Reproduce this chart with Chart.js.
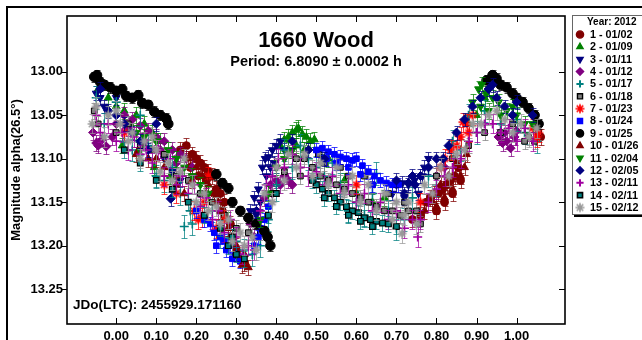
<!DOCTYPE html>
<html>
<head>
<meta charset="utf-8">
<script src="https://cdn.jsdelivr.net/npm/chart.js@4.4.1/dist/chart.umd.min.js"></script>
<style>
  html, body { margin: 0; padding: 0; background: #fff; }
</style>
</head>
<body>
<canvas id="lightcurve" width="642" height="340"></canvas>
<script>
const FONT = 'Arial, "Liberation Sans", sans-serif';

// axis ticks
const X_TICKS = [0.00, 0.10, 0.20, 0.30, 0.40, 0.50, 0.60, 0.70, 0.80, 0.90, 1.00];
const Y_TICKS = [13.00, 13.05, 13.10, 13.15, 13.20, 13.25];

const SERIES_LABELS = ['1 - 01/02', '2 - 01/09', '3 - 01/11', '4 - 01/12', '5 - 01/17',
  '6 - 01/18', '7 - 01/23', '8 - 01/24', '9 - 01/25', '10 - 01/26', '11 - 02/04',
  '12 - 02/05', '13 - 02/11', '14 - 02/11', '15 - 02/12'];

// mag error per session
const ERRORS = [0.009, 0.009, 0.008, 0.009, 0.013, 0.009, 0.011, 0.008, 0.006, 0.009, 0.009, 0.008, 0.011, 0.009, 0.011];

// [phase, magnitude]
const s1 = [[0.16,13.09],[0.175,13.085],[0.19,13.095],[0.2,13.1],[0.21,13.105],[0.22,13.11],[0.23,13.115],[0.24,13.12],
  [0.25,13.135],[0.26,13.14],[0.27,13.15],[0.3,13.205],[0.31,13.215],[0.32,13.22],[0.775,13.15],[0.785,13.145],
  [0.795,13.14],[0.805,13.14],[0.815,13.135],[0.825,13.13],[0.835,13.125],[0.845,13.12],[0.855,13.11],[1.06,13.075],
  [0.185,13.11],[0.205,13.12],[0.225,13.125],[0.245,13.14],[0.265,13.16],[0.285,13.175],[0.76,13.165],[0.8,13.16],
  [0.82,13.15],[0.84,13.14],[0.86,13.125],[0.74,13.17]];
const s2 = [[0.41,13.085],[0.42,13.078],[0.43,13.075],[0.44,13.07],[0.45,13.067],[0.455,13.065],[0.465,13.072],[0.475,13.075],
  [0.485,13.08],[0.495,13.078],[-0.02,13.03],[0.0,13.04],[0.02,13.045],[0.05,13.05],[0.07,13.06],[0.09,13.07],
  [0.26,13.16],[0.28,13.17],[0.6,13.14],[0.64,13.15],[0.88,13.06],[0.9,13.05],[0.43,13.09],[0.45,13.085],
  [0.47,13.09],[0.51,13.095],[0.53,13.1],[-0.045,13.02],[0.035,13.06],[0.11,13.08],[0.92,13.03],
  [0.015,13.085],[0.055,13.09],[0.095,13.11],[0.135,13.12],[0.57,13.125],[0.67,13.145]];
const s3 = [[0.335,13.16],[0.345,13.145],[0.355,13.135],[0.365,13.11],[0.372,13.1],[0.38,13.098],[0.39,13.09],[0.4,13.085],
  [0.41,13.08],[0.7,13.13],[0.715,13.128],[0.73,13.13],[0.745,13.125],[0.755,13.14],[0.765,13.12],[0.77,13.11],
  [0.12,13.1],[0.14,13.115],[0.16,13.125],[-0.05,13.025],[-0.04,13.03],[-0.03,13.04],[0.35,13.165],[0.36,13.15],
  [0.375,13.12],[0.385,13.11],[0.395,13.105],[0.42,13.09],[0.69,13.14],[0.72,13.145],[0.78,13.1],[0.0,13.03]];
const s4 = [[-0.058,13.07],[-0.05,13.082],[-0.045,13.085],[-0.035,13.078],[-0.025,13.086],[-0.01,13.075],[0.0,13.06],[0.02,13.05],
  [0.04,13.055],[0.06,13.062],[0.08,13.068],[0.1,13.075],[0.12,13.08],[0.14,13.09],[0.16,13.095],[0.175,13.1],
  [0.37,13.145],[0.385,13.13],[0.4,13.125],[0.41,13.13],[0.42,13.12],[0.335,13.175],[0.345,13.19],
  [0.955,13.075],[0.965,13.082],[0.975,13.08],[0.985,13.088],[0.995,13.075],[1.0,13.068],[0.03,13.065],[0.07,13.08],
  [0.11,13.09],[0.15,13.105],[0.19,13.11],[0.43,13.125],[0.44,13.13],[0.39,13.14],[0.8,13.12],[0.82,13.11],[0.97,13.07]];
const s5 = [[0.19,13.175],[0.185,13.16],[0.1,13.12],[0.12,13.125],[0.16,13.14],[0.02,13.08],[0.04,13.09],[-0.03,13.06],
  [0.24,13.16],[0.28,13.19],[0.32,13.205],[0.36,13.2],[0.4,13.13],[0.44,13.11],[0.48,13.1],[0.52,13.12],[0.56,13.13],
  [0.6,13.15],[0.65,13.117],[0.62,13.165],[0.68,13.16],[0.72,13.17],[0.76,13.16],[0.8,13.13],[0.86,13.09],[0.9,13.07],
  [0.96,13.06],[1.02,13.07],[-0.05,13.03],[0.0,13.035],[0.06,13.05],[0.08,13.085],[0.14,13.11],[0.21,13.14],[0.26,13.19],
  [0.3,13.195],[0.34,13.21],[0.38,13.17],[0.42,13.09],[0.46,13.085],[0.5,13.11],[0.54,13.105],[0.58,13.16],[0.64,13.14],
  [0.7,13.18],[0.74,13.145],[0.78,13.12],[0.84,13.08],[0.88,13.05],[0.92,13.045],[1.0,13.055],[1.05,13.08],[0.17,13.178]];
const s6 = [[0.45,13.1],[0.47,13.1],[0.49,13.11],[0.51,13.12],[0.53,13.125],[0.55,13.13],[0.57,13.135],[0.59,13.14],
  [0.61,13.145],[0.63,13.15],[0.65,13.155],[0.67,13.16],[0.69,13.16],[0.71,13.165],[0.73,13.16],[0.75,13.16],
  [0.505,13.095],[0.56,13.11],[0.62,13.12],[1.03,13.075],[1.045,13.08],[1.055,13.07],[1.02,13.08],[0.99,13.06],
  [-0.055,13.045],[-0.045,13.06],[0.0,13.07],[0.03,13.06],[0.06,13.085],[0.09,13.09],[0.12,13.095],[0.15,13.12],
  [0.18,13.125],[0.21,13.14],[0.24,13.15],[0.27,13.165],[0.3,13.18],[0.33,13.185],[0.36,13.185],[0.39,13.14],
  [0.42,13.115],[0.46,13.12],[0.52,13.105],[0.58,13.12],[0.64,13.13],[0.68,13.14],[0.72,13.15],[0.76,13.175],
  [0.8,13.12],[0.84,13.1],[0.88,13.085],[0.92,13.07],[0.96,13.07]];
const s7 = [[0.205,13.17],[0.215,13.168],[0.195,13.16],[0.12,13.13],[0.15,13.14],[0.22,13.15],[0.25,13.18],[0.6,13.13],
  [0.76,13.15],[0.81,13.11],[0.835,13.09],[0.85,13.085],[0.866,13.058],[0.875,13.06],[0.88,13.07],[1.05,13.075],
  [1.055,13.07],[0.02,13.07],[0.23,13.12],[0.27,13.17],[0.82,13.1],[0.86,13.075],[0.89,13.05],[1.04,13.065]];
const s8 = [[0.2,13.16],[0.22,13.17],[0.235,13.175],[0.245,13.185],[0.26,13.19],[0.27,13.195],[0.285,13.2],[0.3,13.21],
  [0.31,13.218],[0.355,13.19],[0.37,13.17],[0.38,13.155],[0.5,13.09],[0.515,13.088],[0.53,13.092],[0.545,13.095],
  [0.56,13.098],[0.575,13.1],[0.59,13.102],[0.6,13.1],[0.615,13.108],[0.63,13.115],[0.645,13.12],[0.66,13.125],
  [0.675,13.128],[0.69,13.13],[0.705,13.13],[0.525,13.1],[0.55,13.105],[0.58,13.11],[0.61,13.118],[0.64,13.13],
  [0.25,13.2],[0.275,13.205],[0.29,13.215],[0.345,13.2],[0.36,13.18]];
const s9 = [[-0.055,13.006],[-0.048,13.004],[-0.04,13.012],[-0.03,13.015],[-0.015,13.018],[0.0,13.022],[0.015,13.02],
  [0.025,13.028],[0.04,13.03],[0.055,13.027],[0.065,13.036],[0.08,13.038],[0.095,13.046],[0.11,13.05],[0.125,13.054],
  [0.13,13.06],[0.25,13.118],[0.265,13.128],[0.28,13.134],[0.29,13.15],[0.31,13.16],[0.33,13.168],[0.35,13.175],
  [0.37,13.183],[0.378,13.19],[0.385,13.2],[0.925,13.01],[0.94,13.004],[0.95,13.008],[0.96,13.015],[0.975,13.018],
  [0.99,13.025],[1.0,13.03],[1.015,13.035],[1.03,13.042],[1.045,13.05],[1.055,13.06]];
const s10 = [[0.18,13.1],[0.2,13.11],[0.215,13.12],[0.23,13.13],[0.245,13.14],[0.26,13.16],[0.28,13.18],[0.3,13.2],
  [0.315,13.222],[0.33,13.225],[0.79,13.15],[0.8,13.155],[0.82,13.145],[0.84,13.135],[0.86,13.12],[0.87,13.11],
  [0.08,13.1],[0.1,13.1],[0.12,13.11],[0.19,13.125],[0.225,13.14],[0.255,13.15],[0.29,13.19],[0.32,13.21],
  [0.77,13.16],[0.81,13.13],[0.83,13.12],[0.85,13.105],[0.875,13.095],[0.05,13.095],[0.15,13.13],[0.17,13.14]];
const s11 = [[0.905,13.02],[0.913,13.015],[0.925,13.025],[0.94,13.03],[0.955,13.035],[0.975,13.045],[1.0,13.05],[1.02,13.06],
  [1.04,13.06],[0.1,13.08],[0.13,13.09],[0.15,13.1],[0.17,13.11],[0.19,13.12],[0.21,13.13],[0.23,13.14],[0.36,13.17],
  [0.38,13.14],[0.42,13.1],[0.44,13.09],[0.89,13.035],[0.91,13.04],[0.93,13.045],[0.96,13.05],[0.99,13.04],
  [0.05,13.07],[0.07,13.075],[0.4,13.11]];
const s12 = [[0.136,13.146],[0.0,13.05],[0.02,13.06],[0.04,13.07],[-0.02,13.045],[0.06,13.08],[0.72,13.14],[0.73,13.128],
  [0.746,13.13],[0.76,13.12],[0.78,13.11],[0.8,13.1],[0.817,13.1],[0.83,13.085],[0.85,13.07],[0.87,13.055],[0.89,13.04],
  [0.91,13.03],[0.93,13.02],[0.95,13.03],[0.97,13.04],[0.99,13.05],[-0.04,13.02],[0.08,13.09],[0.1,13.06],[0.3,13.21],
  [0.35,13.16],[0.44,13.08],[0.48,13.09],[0.52,13.1],[0.7,13.125],[0.74,13.12],[0.94,13.015],[1.0,13.035],[1.04,13.05]];
const s13 = [[-0.04,13.07],[0.0,13.08],[0.03,13.09],[0.06,13.095],[0.09,13.105],[0.12,13.12],[0.15,13.13],[0.18,13.14],
  [0.21,13.155],[0.24,13.17],[0.27,13.185],[0.3,13.19],[0.33,13.2],[0.36,13.16],[0.39,13.12],[0.42,13.11],[0.46,13.11],
  [0.5,13.115],[0.54,13.12],[0.58,13.13],[0.62,13.14],[0.66,13.15],[0.7,13.16],[0.74,13.17],[0.753,13.19],[0.78,13.15],
  [0.82,13.12],[0.86,13.1],[0.9,13.07],[0.94,13.06],[0.98,13.065],[1.02,13.065],[-0.05,13.05],[-0.02,13.06],
  [0.015,13.07],[0.045,13.075],[0.075,13.09],[0.105,13.09],[0.135,13.1],[0.165,13.12],[0.195,13.13],[0.225,13.145],
  [0.255,13.16],[0.285,13.17],[0.315,13.21],[0.345,13.205],[0.375,13.13],[0.405,13.1],[0.44,13.095],[0.48,13.12],
  [0.52,13.13],[0.56,13.14],[0.6,13.15],[0.64,13.16],[0.68,13.17],[0.72,13.18],[0.76,13.17],[0.8,13.135],[0.84,13.11],
  [0.88,13.08],[0.92,13.06],[0.96,13.07],[1.0,13.08],[1.04,13.08]];
const s14 = [[0.5,13.13],[0.515,13.135],[0.53,13.14],[0.545,13.145],[0.56,13.15],[0.575,13.155],[0.59,13.16],[0.605,13.162],
  [0.62,13.168],[0.635,13.17],[0.65,13.172],[0.665,13.174],[0.68,13.175],[0.28,13.2],[0.3,13.21],[0.29,13.19],[0.4,13.14],
  [0.49,13.125],[0.52,13.145],[0.55,13.155],[0.58,13.165],[0.61,13.172],[0.64,13.178],[0.7,13.178],[0.26,13.18],
  [0.32,13.215],[0.38,13.165],[0.02,13.09],[0.06,13.105],[0.1,13.125],[0.14,13.135],[0.18,13.15],[0.22,13.165]];
const s15 = [[-0.05,13.04],[-0.02,13.05],[0.01,13.06],[0.04,13.07],[0.07,13.08],[0.1,13.09],[0.13,13.105],[0.16,13.115],
  [0.19,13.13],[0.22,13.14],[0.25,13.155],[0.28,13.17],[0.31,13.185],[0.34,13.19],[0.37,13.14],[0.4,13.11],[0.43,13.095],
  [0.47,13.095],[0.51,13.105],[0.55,13.11],[0.59,13.12],[0.63,13.13],[0.67,13.14],[0.714,13.186],[0.7,13.15],[0.73,13.15],
  [0.77,13.13],[0.81,13.11],[0.85,13.095],[0.89,13.06],[0.93,13.05],[0.97,13.055],[1.01,13.06],[1.05,13.065],
  [-0.06,13.06],[-0.03,13.075],[0.0,13.045],[0.03,13.08],[0.06,13.1],[0.09,13.075],[0.11,13.115],[0.14,13.125],
  [0.17,13.1],[0.2,13.15],[0.23,13.16],[0.26,13.175],[0.29,13.195],[0.32,13.2],[0.35,13.205],[0.39,13.15],[0.42,13.125],
  [0.45,13.11],[0.49,13.12],[0.53,13.13],[0.57,13.14],[0.61,13.15],[0.65,13.16],[0.69,13.17],[0.72,13.165],
  [0.75,13.175],[0.79,13.14],[0.83,13.12],[0.87,13.09],[0.91,13.06],[0.95,13.045],[0.99,13.07],[1.03,13.075]];
const SERIES = [s1, s2, s3, s4, s5, s6, s7, s8, s9, s10, s11, s12, s13, s14, s15];

// marker styling, one per session
const FILLS  = ['#800000','#008000','#000080','#800080','#008080','#808080','#ff0000','#0000ff','#000000','#800000','#008000','#000080','#a000a0','#008080','#999999'];
const EDGES  = ['#800000','#008000','#000080','#800080','#008080','#000000','#ff0000','#0000ff','#000000','#800000','#008000','#000080','#a000a0','#000000','#999999'];
const SHAPES = ['circle','triangle','triangle','rectRot','cross','rect','star','rect','circle','triangle','triangle','rectRot','cross','rect','star'];
const TURNS  = [0, 0, 180, 0, 0, 0, 0, 0, 0, 0, 180, 0, 0, 0, 0];
const SIZES  = [4, 4.5, 4.5, 4.5, 4.5, 4, 4.5, 4, 4.8, 4.5, 4.5, 4.5, 4.5, 4, 4.5];
const LINE_W = [1, 1, 1, 1, 1.6, 1, 1.6, 1, 1, 1, 1, 1, 1.6, 1.2, 1.6];

// asterisk marker as a small canvas (drawn as pointStyle image)
function starMarker(color, r) {
  const c = document.createElement('canvas');
  const n = Math.ceil(r * 2 + 3);
  c.width = n; c.height = n;
  const g = c.getContext('2d');
  const m = n / 2, d = r * 0.72;
  g.strokeStyle = color;
  g.lineWidth = 1.7;
  g.beginPath();
  g.moveTo(m - r, m); g.lineTo(m + r, m);
  g.moveTo(m, m - r); g.lineTo(m, m + r);
  g.moveTo(m - d, m - d); g.lineTo(m + d, m + d);
  g.moveTo(m - d, m + d); g.lineTo(m + d, m - d);
  g.stroke();
  return c;
}

const markerFor = i => SHAPES[i] === 'star' ? starMarker(FILLS[i], SIZES[i]) : SHAPES[i];

const datasets = SERIES.map((pts, i) => ({
  label: SERIES_LABELS[i],
  data: pts.map(p => ({ x: p[0], y: p[1] })),
  err: ERRORS[i],
  pointStyle: markerFor(i),
  pointRotation: TURNS[i],
  pointRadius: SIZES[i],
  pointHoverRadius: SIZES[i],
  backgroundColor: FILLS[i],
  borderColor: EDGES[i],
  borderWidth: LINE_W[i],
  showLine: false,
  order: SERIES.length - i
}));

function hexA(hex, a) {
  const n = parseInt(hex.slice(1), 16);
  return `rgba(${n >> 16},${(n >> 8) & 255},${n & 255},${a})`;
}

// vertical error bars, drawn just under each session's markers
const errorBars = {
  id: 'errorBars',
  beforeDatasetDraw(chart, args) {
    const ds = chart.data.datasets[args.index];
    const xs = chart.scales.x, ys = chart.scales.y;
    const ctx = chart.ctx;
    ctx.save();
    ctx.strokeStyle = hexA(FILLS[args.index], 0.75);
    ctx.lineWidth = 1;
    ctx.beginPath();
    ds.data.forEach(p => {
      const x = Math.round(xs.getPixelForValue(p.x)) + 0.5;
      const y1 = Math.round(ys.getPixelForValue(p.y - ds.err)) + 0.5;
      const y2 = Math.round(ys.getPixelForValue(p.y + ds.err)) + 0.5;
      ctx.moveTo(x, y1); ctx.lineTo(x, y2);
      ctx.moveTo(x - 3, y1); ctx.lineTo(x + 3, y1);
      ctx.moveTo(x - 3, y2); ctx.lineTo(x + 3, y2);
    });
    ctx.stroke();
    ctx.restore();
  }
};

// frame, tick marks, texts and the session legend
const decorations = {
  id: 'decorations',
  afterDraw(chart) {
    const ctx = chart.ctx;
    const a = chart.chartArea;
    const xs = chart.scales.x, ys = chart.scales.y;
    ctx.save();

    // outer frame
    ctx.fillStyle = '#000';
    ctx.fillRect(6, 6, 636, 2);
    ctx.fillRect(6, 6, 2, 334);

    // plot frame
    ctx.strokeStyle = '#000';
    ctx.lineWidth = 1.6;
    ctx.strokeRect(a.left, a.top, a.right - a.left, a.bottom - a.top);

    ctx.lineWidth = 1;
    ctx.beginPath();
    X_TICKS.forEach(v => {
      const x = Math.round(xs.getPixelForValue(v)) + 0.5;
      ctx.moveTo(x, a.bottom); ctx.lineTo(x, a.bottom - 6);
      ctx.moveTo(x, a.top); ctx.lineTo(x, a.top + 6);
    });
    Y_TICKS.forEach(v => {
      const y = Math.round(ys.getPixelForValue(v)) + 0.5;
      ctx.moveTo(a.left, y); ctx.lineTo(a.left - 6, y);
      ctx.moveTo(a.right, y); ctx.lineTo(a.right - 6, y);
    });
    ctx.stroke();

    // texts inside the plot
    const cx = (a.left + a.right) / 2;
    ctx.fillStyle = '#000';
    ctx.textBaseline = 'alphabetic';
    ctx.textAlign = 'center';
    ctx.font = `bold 22px ${FONT}`;
    ctx.fillText('1660 Wood', cx, 47);
    ctx.font = `bold 14.5px ${FONT}`;
    ctx.fillText('Period: 6.8090 \u00b1 0.0002 h', cx, 66);
    ctx.textAlign = 'left';
    ctx.font = `bold 13.5px ${FONT}`;
    ctx.fillText('JDo(LTC): 2455929.171160', 73, 309);

    // legend box
    const lx = 572, ly = 15, lw = 80, lh = 199;
    ctx.fillStyle = '#000';
    ctx.fillRect(lx + 2, ly + 3, lw, lh);
    ctx.fillStyle = '#fff';
    ctx.fillRect(lx, ly, lw, lh);
    ctx.strokeStyle = '#666';
    ctx.lineWidth = 1;
    ctx.strokeRect(lx + 0.5, ly + 0.5, lw, lh);

    ctx.fillStyle = '#000';
    ctx.textBaseline = 'middle';
    ctx.font = `bold 10px ${FONT}`;
    ctx.fillText('Year: 2012', 587, 22);
    ctx.font = `bold 10.8px ${FONT}`;
    const H = Chart.helpers;
    SERIES_LABELS.forEach((lab, i) => {
      const y = 34.5 + i * 12.36;
      if (SHAPES[i] === 'star') {
        ctx.drawImage(starMarker(FILLS[i], 4.5), 580 - 6, y - 6);
      } else {
        ctx.fillStyle = FILLS[i];
        ctx.strokeStyle = EDGES[i];
        ctx.lineWidth = LINE_W[i] + 0.4;
        H.drawPoint(ctx, { pointStyle: SHAPES[i], rotation: TURNS[i], radius: 3.6, borderWidth: 1 }, 580, y);
      }
      ctx.fillStyle = '#000';
      ctx.fillText(lab, 590, y + 0.5);
    });

    ctx.restore();
  }
};

new Chart(document.getElementById('lightcurve'), {
  type: 'scatter',
  data: { datasets },
  options: {
    responsive: false,
    animation: false,
    events: [],
    layout: { padding: { left: 0, top: 16, right: 77, bottom: 0 } },
    plugins: { legend: { display: false }, tooltip: { enabled: false } },
    scales: {
      x: {
        type: 'linear',
        min: -0.123,
        max: 1.121,
        afterBuildTicks: s => { s.ticks = X_TICKS.map(v => ({ value: v })); },
        afterFit: s => { s.height = 16; },
        grid: { display: false, drawTicks: false },
        border: { display: false },
        ticks: {
          padding: 5, color: '#000', maxRotation: 0, autoSkip: false,
          font: { family: FONT, size: 13, weight: 'bold' },
          callback: v => v.toFixed(2)
        }
      },
      y: {
        type: 'linear',
        reverse: true,
        min: 12.936,
        max: 13.29,
        afterBuildTicks: s => { s.ticks = Y_TICKS.map(v => ({ value: v })); },
        afterFit: s => { s.width = 67; },
        grid: { display: false, drawTicks: false },
        border: { display: false },
        ticks: {
          padding: 4, color: '#000', autoSkip: false,
          font: { family: FONT, size: 13, weight: 'bold' },
          callback: v => v.toFixed(2)
        },
        title: {
          display: true,
          text: 'Magnitude alpha(26.5\u00b0)',
          color: '#000',
          font: { family: FONT, size: 13, weight: 'bold' },
          padding: { top: 9, bottom: 0 }
        }
      }
    }
  },
  plugins: [errorBars, decorations]
});
</script>
</body>
</html>
